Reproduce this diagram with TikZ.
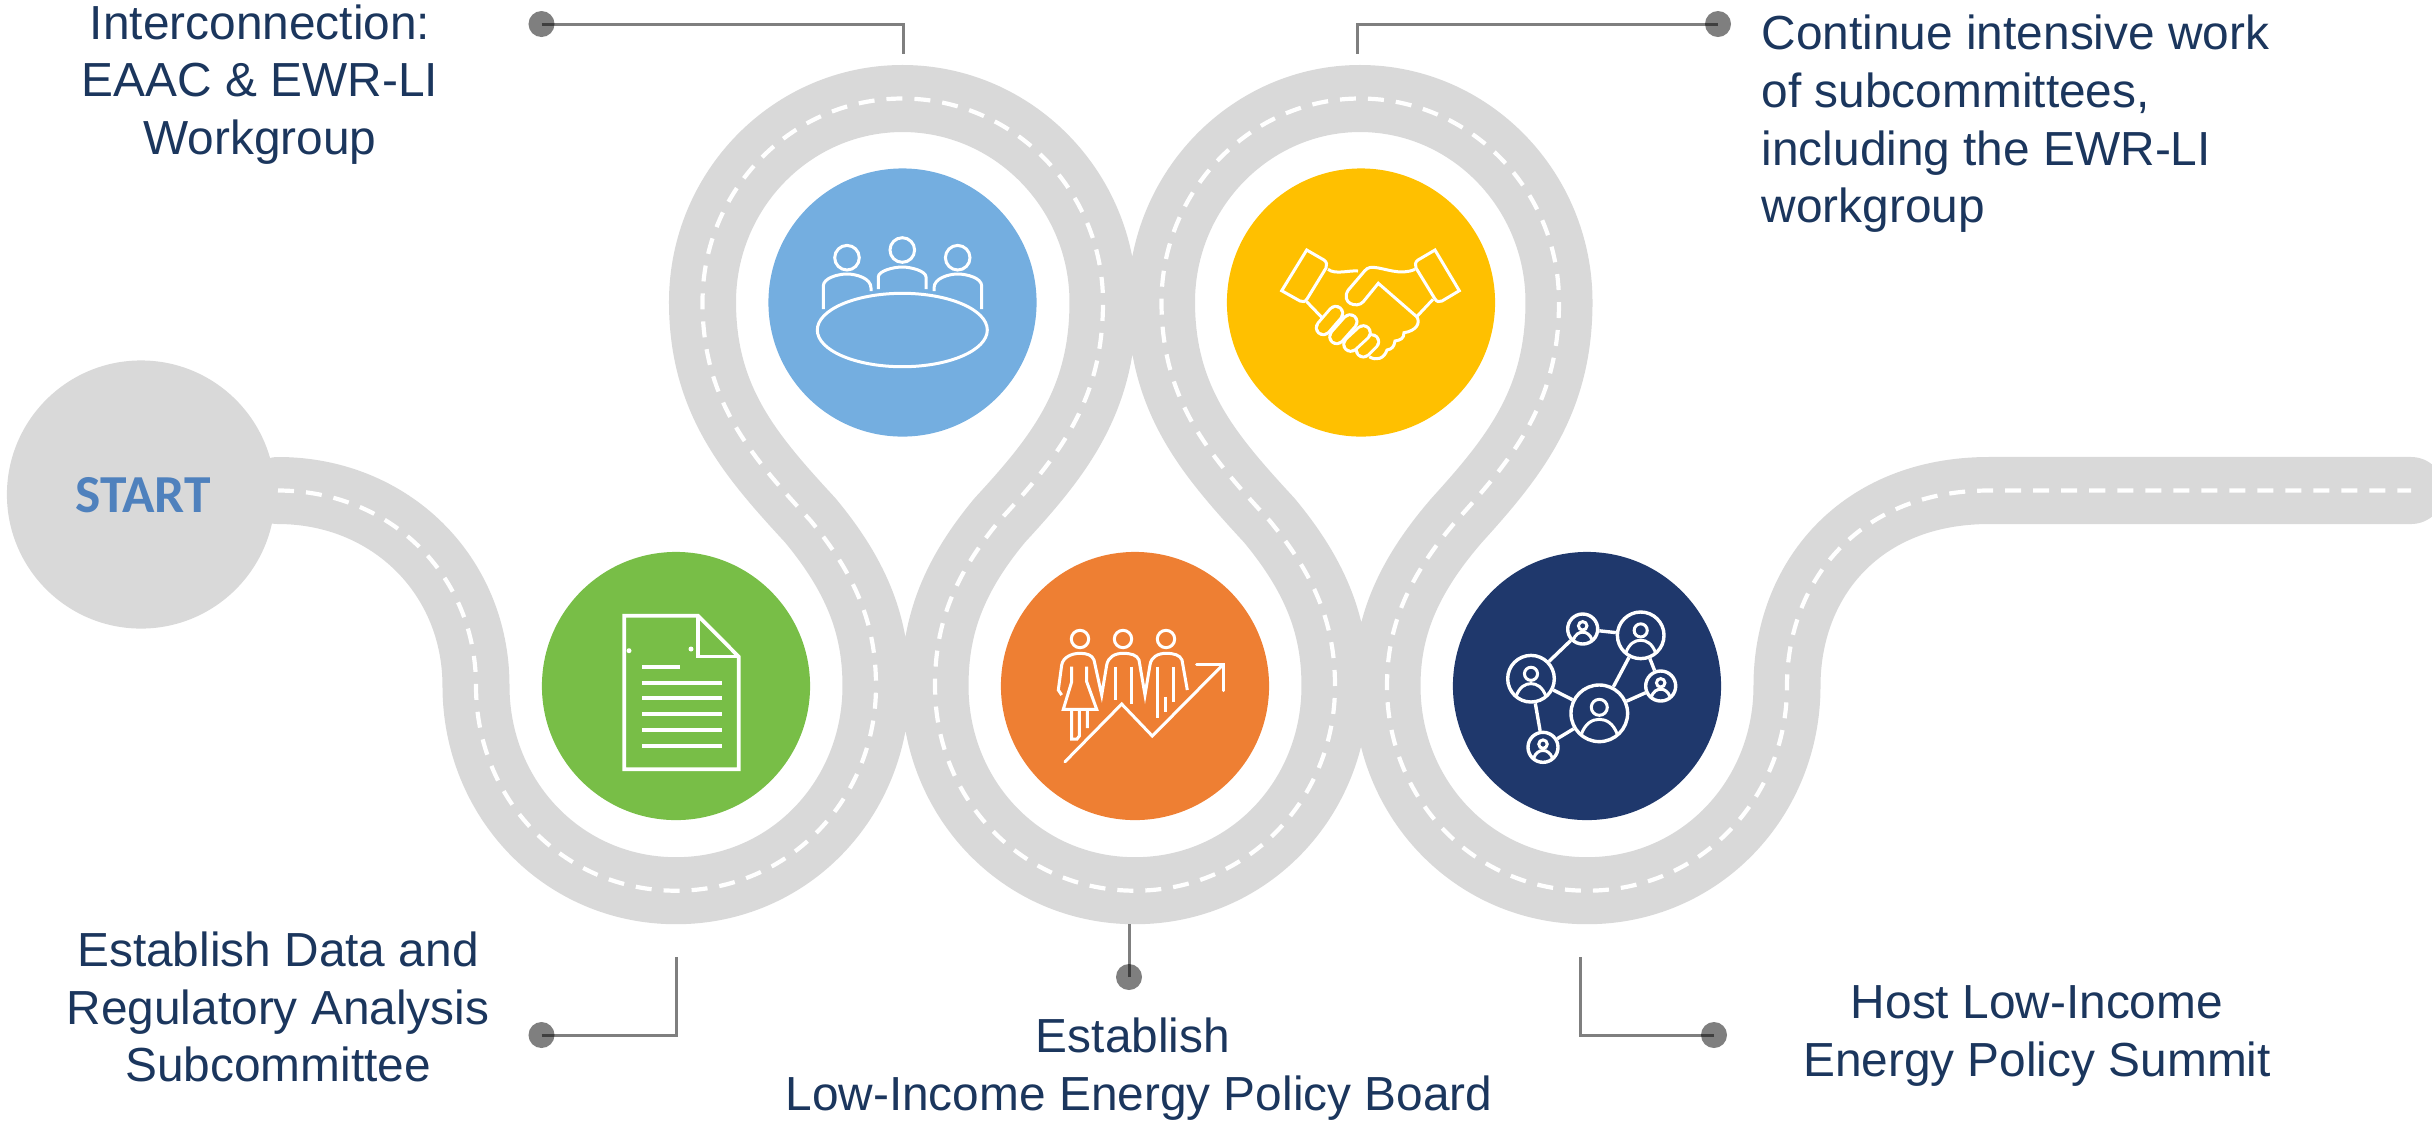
\documentclass[tikz,border=0pt]{standalone}
\usepackage{fontspec}
\setmainfont{Liberation Sans}
\newfontfamily\startfont{Carlito}
\usepackage{xcolor}
\definecolor{roadgray}{HTML}{D9D9D9}
\definecolor{labelblue}{HTML}{1B365D}
\definecolor{startblue}{HTML}{4F81BD}
\definecolor{stopgreen}{HTML}{78BE47}
\definecolor{stopblue}{HTML}{74AEE0}
\definecolor{stopyellow}{HTML}{FFC000}
\definecolor{stoporange}{HTML}{EE7F33}
\definecolor{stopnavy}{HTML}{1F386C}
\newcommand{\roadline}{(278,490.5) .. controls (390,490.5) and (476,575) .. (476,686)
 .. controls (476,799) and (563,890.7) .. (676,890.7) .. controls (789,890.7) and (876,799) .. (876,686)
 .. controls (876,630) and (860,580) .. (810,520) .. controls (750,455) and (702.5,400) .. (702.5,302)
 .. controls (702.5,190) and (792,98.5) .. (902.5,98.5) .. controls (1013,98.5) and (1103,190) .. (1103,302)
 .. controls (1103,400) and (1060,455) .. (1000,520) .. controls (950,580) and (935,630) .. (935,686)
 .. controls (935,799) and (1022,890.7) .. (1135,890.7) .. controls (1248,890.7) and (1335,799) .. (1335,686)
 .. controls (1335,630) and (1319,580) .. (1269,520) .. controls (1209,455) and (1161.5,400) .. (1161.5,302)
 .. controls (1161.5,190) and (1251,98.5) .. (1360,98.5) .. controls (1470,98.5) and (1559,190) .. (1559,302)
 .. controls (1559,400) and (1516,455) .. (1457,520) .. controls (1405,580) and (1387,630) .. (1387,686)
 .. controls (1387,799) and (1474,890.7) .. (1587,890.7) .. controls (1700,890.7) and (1787,799) .. (1787,686)
 .. controls (1787,580) and (1860,490.5) .. (1989,490.5) -- (2411,490.5)}
\tikzset{
road/.style={draw=roadgray,line width=0.67cm,line cap=round},
lane/.style={draw=white,line width=0.042cm,dash pattern=on 0.16cm off 0.12cm},
stop/.style={circle,inner sep=0,minimum size=2.68cm},
icon/.style={draw=white,line width=0.03cm},
leader/.style={draw=black,draw opacity=0.5,line width=0.03cm},
calldot/.style={circle,fill=black,fill opacity=0.5,inner sep=0,minimum size=0.26cm},
tag/.style={text=labelblue,inner sep=0,font=\fontsize{13.6}{16.4}\selectfont},
netnode/.style={circle,icon,line width=0.034cm,inner sep=0},
}
\begin{document}
\begin{tikzpicture}[x=0.01cm,y=-0.01cm]
\useasboundingbox (0,0) rectangle (2432,1120);
\draw[road] \roadline;
\draw[lane] \roadline;
\node[stop,fill=roadgray] (startstop) at (141,494.5) {};
\node[text=startblue,inner sep=0,font=\startfont\bfseries\fontsize{15.2}{18}\selectfont] (starttext) at (143,495) {START};
\node[stop,fill=stopgreen] (datastop) at (676,686) {};
\node[stop,fill=stopblue] (meetstop) at (902.5,302.5) {};
\node[stop,fill=stopyellow] (shakestop) at (1361,302.5) {};
\node[stop,fill=stoporange] (boardstop) at (1135,686) {};
\node[stop,fill=stopnavy] (summitstop) at (1587,686) {};
\draw[icon,line width=0.037cm] (624.3,615.7)--(698,615.7)--(738.7,656.6)--(738.7,769.3)--(624.3,769.3)--cycle;
\draw[icon,line width=0.037cm] (698,615.7)--(698,656.6)--(738.7,656.6);
\fill[white] (629,650.7) circle (2.5) (691,649) circle (2.5);
\draw[icon,line width=0.037cm] (642,667)--(680,667);
\foreach \y in {682.7,698,713.7,729.7,745.7}
\draw[icon,line width=0.037cm] (642,\y)--(722,\y);
\draw[icon] (902.3,330) ellipse (85 and 36.7);
\draw[icon] (902.3,250) circle (12.3) (847,257.7) circle (12.3) (957.7,257.7) circle (12.3);
\draw[icon] (823.3,309)--(823.3,286) .. controls (823.3,278) and (838,274) .. (847,274) .. controls (856,274) and (871,278) .. (871,288)--(871,291);
\draw[icon] (878.3,289)--(878.3,277) .. controls (878.3,271) and (893,267) .. (902.3,267) .. controls (911,267) and (926,271) .. (926,277)--(926,289);
\draw[icon] (981.7,309)--(981.7,286) .. controls (981.7,278) and (967,274) .. (957.7,274) .. controls (949,274) and (934,278) .. (934,288)--(934,291);
\draw[icon] (1306.7,250)--(1324,260) .. controls (1327,262) and (1327,265) .. (1326,268)--(1307,299) .. controls (1305,302) and (1303,302) .. (1300,301)--(1281.7,290.7)--cycle;
\draw[icon] (1435,250)--(1418,260) .. controls (1415,262) and (1415,265) .. (1416,268)--(1435,299) .. controls (1437,302) and (1439,302) .. (1442,301)--(1459.3,290.7)--cycle;
\draw[icon] (1328,269.3) .. controls (1335,275) and (1350,270) .. (1358,271);
\draw[icon] (1415,269.3) .. controls (1400,276) and (1385,268) .. (1373.3,267.3) .. controls (1368,267) and (1366,269) .. (1362,274)--(1348.3,290) .. controls (1340,303) and (1357,309) .. (1363.3,301.7)--(1378.3,283.3)--(1416.7,316.7);
\draw[icon] (1416.7,316.7) .. controls (1421,323) and (1416,331) .. (1404,332.7) .. controls (1404,339) and (1400,340) .. (1395,341) .. controls (1394,347) and (1392,349) .. (1387,350) .. controls (1384,359) and (1376,361) .. (1369.3,356.7);
\draw[icon] (1416.7,316.7)--(1433,299.3) (1306.7,301.7)--(1321.7,317.3);
\foreach \xa/\ya/\xb/\yb in {1363.3/350/1371.7/341.7,1350.7/344.3/1363.3/332.7,1336.7/336.7/1350/321.7,1323.3/327.7/1335.7/313.3}{
\draw[white,line width=0.17cm,line cap=round] (\xa,\ya)--(\xb,\yb);
\draw[stopyellow,line width=0.11cm,line cap=round] (\xa,\ya)--(\xb,\yb);
}
\draw[icon] (1080,639) circle (8.7) (1123,639) circle (8.7) (1166,639) circle (8.7);
\draw[icon] (1061.7,695) -- (1058.3,690) -- (1061.7,665) .. controls (1063,657) and (1072,653.3) .. (1080,653.3) .. controls (1087,653.3) and (1092,655) .. (1094,660) -- (1101.7,695) -- (1106.7,665) .. controls (1108,657) and (1115,653.3) .. (1123,653.3) .. controls (1131,653.3) and (1137,655) .. (1139,660) -- (1145,695) -- (1150,665) .. controls (1151,657) and (1158,653.3) .. (1166,653.3) .. controls (1174,653.3) and (1180,655) .. (1182,660) -- (1187.3,690);
\draw[icon] (1071.7,666.7)--(1071.7,681.7)--(1063.3,709.3)--(1096.7,709.3)--(1086.7,681.7)--(1086.7,666.7);
\draw[icon] (1071.7,709.3)--(1071.7,739)--(1077,739)--(1079.3,736)--(1079.3,709.3) (1087.3,709.3)--(1087.3,728);
\draw[icon] (1115,666.7)--(1115,700) (1131,666.7)--(1131,704) (1157.7,666.7)--(1157.7,718) (1173.3,666.7)--(1173.3,701.7) (1165.7,696.7)--(1165.7,711.7);
\draw[icon,line cap=round] (1065,761.7)--(1121.7,704)--(1152.3,736)--(1223.3,664.3);
\draw[icon,line cap=round] (1196.7,664.3)--(1223.3,664.3)--(1223.3,690.7);
\node[netnode,minimum size=0.30cm] (neta) at (1582.7,629) {};
\node[netnode,minimum size=0.466cm] (netb) at (1640.7,635.3) {};
\node[netnode,minimum size=0.466cm] (netc) at (1531,678.7) {};
\node[netnode,minimum size=0.30cm] (netd) at (1660.7,686) {};
\node[netnode,minimum size=0.566cm] (nete) at (1599.3,713.3) {};
\node[netnode,minimum size=0.30cm] (netf) at (1543,747.3) {};
\draw[icon,line width=0.034cm] (neta)--(netc) (neta)--(netb) (netb)--(nete) (netb)--(netd) (netd)--(nete) (netc)--(nete) (netc)--(netf) (netf)--(nete);
\foreach \nd/\sc in {neta/0.53,netb/0.82,netc/0.82,netd/0.53,nete/1,netf/0.53}{
\begin{scope}[shift={(\nd)},scale=\sc]
\draw[icon] (0,-6) circle (8);
\draw[icon] (-18,21) .. controls (-14,10) and (-7,6) .. (0,6) .. controls (7,6) and (14,10) .. (18,21);
\end{scope}
}
\node[calldot] (dota) at (541.5,24) {};
\node[calldot] (dotb) at (541.5,1035) {};
\node[calldot] (dotc) at (1129,977) {};
\node[calldot] (dotd) at (1718,24) {};
\node[calldot] (dote) at (1714,1035) {};
\coordinate (enda) at (903,54);
\coordinate (endb) at (676,957);
\coordinate (endc) at (1129,924);
\coordinate (endd) at (1357,54);
\coordinate (ende) at (1580,957);
\draw[leader] (dota.center)-|(enda);
\draw[leader] (dotb.center)-|(endb);
\draw[leader] (dotc.center)--(endc);
\draw[leader] (dotd.center)-|(endd);
\draw[leader] (dote.center)-|(ende);
\node[tag,align=center] (taga) at (260,84.5) {Interconnection:\\EAAC \& EWR-LI\\Workgroup};
\node[tag,align=left,anchor=west] (tagd) at (1761,124) {Continue intensive work\\of subcommittees,\\including the EWR-LI\\workgroup};
\node[tag,align=center] (tagb) at (278,1007) {Establish Data and\\Regulatory Analysis\\Subcommittee};
\node[tag,align=center] (tagc) at (1139,1069) {Establish\kern0.12cm\\Low-Income Energy Policy Board};
\node[tag,align=center] (tage) at (2037,1036) {Host Low-Income\\Energy Policy Summit};
\end{tikzpicture}
\end{document}
